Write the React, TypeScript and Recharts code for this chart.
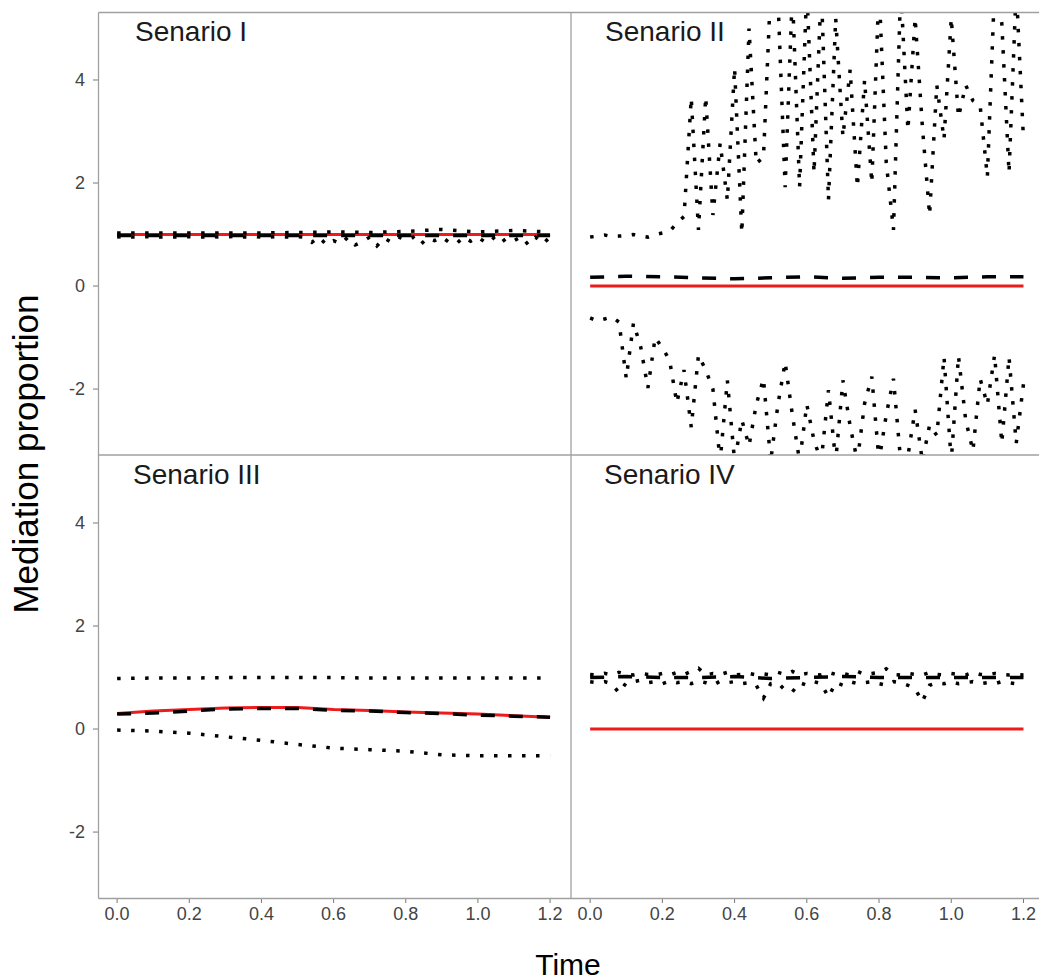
import React from "react";
import { LineChart, Line, XAxis, YAxis } from "recharts";

// time grids
const tFine = [
  0, 0.02, 0.04, 0.06, 0.08, 0.1, 0.12, 0.14, 0.16, 0.18,
  0.2, 0.22, 0.24, 0.26, 0.28, 0.3, 0.32, 0.34, 0.36, 0.38,
  0.4, 0.42, 0.44, 0.46, 0.48, 0.5, 0.52, 0.54, 0.56, 0.58,
  0.6, 0.62, 0.64, 0.66, 0.68, 0.7, 0.72, 0.74, 0.76, 0.78,
  0.8, 0.82, 0.84, 0.86, 0.88, 0.9, 0.92, 0.94, 0.96, 0.98,
  1, 1.02, 1.04, 1.06, 1.08, 1.1, 1.12, 1.14, 1.16, 1.18,
  1.2,
];
const tCoarse = [0, 0.1, 0.2, 0.3, 0.4, 0.5, 0.6, 0.7, 0.8, 0.9, 1, 1.1, 1.2];
const tEnds = [0, 1.2];

const xTicks = [0, 0.2, 0.4, 0.6, 0.8, 1, 1.2];
const yTicks = [-2, 0, 2, 4];

// Senario I
const s1Truth = [1, 1];
const s1Mean = [0.98, 0.98, 0.98, 0.98, 0.98, 0.98, 0.98, 0.98, 0.98, 0.98, 0.98, 0.98, 0.98];
const s1Upper = [1.03, 1.03, 1.03, 1.03, 1.03, 1.04, 1.05, 1.04, 1.06, 1.1, 1.05, 1.08, 1.05];
const s1Lower = [
  0.95, 0.96, 0.95, 0.95, 0.96, 0.95, 0.95, 0.96, 0.95, 0.95,
  0.96, 0.95, 0.95, 0.96, 0.95, 0.95, 0.96, 0.95, 0.95, 0.96,
  0.95, 0.95, 0.96, 0.95, 0.95, 0.96, 0.95, 0.85, 0.95, 0.8,
  0.88, 0.82, 0.95, 0.8, 0.86, 0.95, 0.78, 0.93, 0.85, 0.95,
  0.9, 0.95, 0.8, 0.93, 0.88, 0.95, 0.85, 0.82, 0.95, 0.87,
  0.95, 0.85, 0.95, 0.82, 0.93, 0.88, 0.96, 0.8, 0.95, 0.82,
  0.95,
];

// Senario II
const s2Truth = [0, 0];
const s2Mean = [0.17, 0.19, 0.18, 0.16, 0.14, 0.16, 0.18, 0.15, 0.17, 0.17, 0.16, 0.18, 0.18];
const s2Upper = [
  0.95, 0.97, 0.99, 0.96, 0.97, 0.98, 1.0, 0.97, 0.95, 1.0,
  1.03, 1.06, 1.22, 1.35, 3.65, 1.09, 3.67, 1.38, 2.77, 1.67,
  4.23, 1.03, 5.0, 2.38, 2.5, 5.8, 5.6, 1.92, 5.7, 1.92,
  5.8, 2.2, 5.8, 1.67, 5.2, 2.9, 4.2, 1.92, 4.0, 2.0,
  5.8, 2.4, 1.09, 5.8, 3.03, 5.2, 3.1, 1.38, 3.9, 2.85,
  5.2, 3.28, 3.9, 3.6, 3.5, 2.12, 5.8, 5.1, 2.2, 5.8,
  2.85,
];
const s2Lower = [
  -0.62, -0.68, -0.64, -0.6, -0.7, -1.79, -0.72, -1.18, -1.98, -1.0,
  -1.2, -1.44, -2.27, -1.63, -2.74, -1.34, -1.63, -2.0, -3.4, -1.83,
  -3.4, -2.6, -3.1, -2.3, -1.8, -3.4, -2.3, -1.48, -2.5, -3.4,
  -2.3, -3.0, -3.4, -2.02, -3.4, -1.83, -2.72, -3.4, -2.28, -1.76,
  -3.4, -2.5, -1.8, -3.4, -3.3, -2.4, -3.4, -2.7, -2.9, -1.38,
  -3.4, -1.36, -2.6, -3.2, -1.8, -2.3, -1.34, -3.05, -1.38, -3.05,
  -1.9,
];

// Senario III
const s3Truth = [0.3, 0.35, 0.38, 0.41, 0.42, 0.42, 0.38, 0.36, 0.33, 0.31, 0.29, 0.26, 0.23];
const s3Mean = [0.29, 0.31, 0.35, 0.39, 0.4, 0.4, 0.36, 0.35, 0.32, 0.3, 0.27, 0.25, 0.23];
const s3Upper = [0.98, 0.99, 0.99, 1.0, 1.0, 1.0, 1.0, 0.99, 0.99, 0.99, 0.99, 0.99, 0.99];
const s3Lower = [-0.02, -0.04, -0.08, -0.15, -0.22, -0.3, -0.37, -0.4, -0.43, -0.5, -0.52, -0.52, -0.52];

// Senario IV
const s4Truth = [0, 0];
const s4Mean = [1.0, 1.02, 1.0, 1.0, 1.02, 0.98, 1.0, 1.02, 1.0, 1.0, 1.0, 1.0, 1.0];
const s4Upper = [
  1.06, 1.05, 1.08, 1.05, 1.1, 1.06, 1.05, 1.08, 1.06, 1.05,
  1.08, 1.05, 1.1, 1.06, 1.12, 1.18, 1.05, 1.08, 1.06, 1.1,
  1.05, 1.06, 1.08, 1.05, 1.07, 1.05, 1.1, 1.06, 1.12, 1.05,
  1.08, 1.06, 1.05, 1.1, 1.06, 1.08, 1.05, 1.12, 1.06, 1.08,
  1.1, 1.17, 1.06, 1.05, 1.08, 1.06, 1.05, 1.1, 1.06, 1.05,
  1.08, 1.06, 1.05, 1.1, 1.06, 1.05, 1.08, 1.06, 1.05, 1.06,
  1.05,
];
const s4Lower = [
  0.92, 0.9, 0.92, 0.88, 0.7, 0.9, 0.92, 0.95, 0.9, 0.92,
  0.88, 0.93, 0.9, 0.92, 0.88, 0.93, 0.9, 0.85, 0.93, 0.9,
  0.92, 0.88, 0.9, 0.85, 0.6, 0.88, 0.9, 0.75, 0.72, 0.9,
  0.85, 0.92, 0.88, 0.62, 0.9, 0.85, 0.92, 0.88, 0.9, 0.92,
  0.88, 0.85, 0.92, 0.9, 0.85, 0.78, 0.53, 0.85, 0.9, 0.88,
  0.92, 0.88, 0.9, 0.92, 0.88, 0.9, 0.88, 0.92, 0.9, 0.88,
  0.9,
];

const FONT = "'Liberation Sans', Arial, Helvetica, sans-serif";
const RED = "#ec1c1c";

type Kind = "truth" | "mean" | "ci";
type Series = { t: number[]; v: number[]; kind: Kind };

const lineStyle: Record<Kind, any> = {
  truth: { stroke: RED, strokeWidth: 3 },
  mean: { stroke: "#000", strokeWidth: 3.5, strokeDasharray: "14 14" },
  ci: { stroke: "#000", strokeWidth: 3.5, strokeDasharray: "3.5 10.5" },
};

const zip = (t: number[], v: number[]) => t.map((x, i) => ({ t: x, v: v[i] }));

function Panel({ x, y, w, h, withY, withX, xMax, series }: {
  x: number; y: number; w: number; h: number;
  withY: boolean; withX: boolean; xMax: number; series: Series[];
}) {
  const axisW = withY ? 98 : 0;
  const axisH = withX ? 50 : 0;
  const tickStyle = { fill: "#444", fontSize: 18, fontFamily: FONT };
  return (
    <div style={{ position: "absolute", left: x - axisW, top: y }}>
      <LineChart width={w + axisW} height={h + axisH} margin={{ top: 0, right: 0, bottom: 0, left: 0 }}>
        <XAxis
          type="number"
          dataKey="t"
          domain={[-0.053, xMax]}
          allowDataOverflow
          ticks={xTicks}
          tickFormatter={(v: number) => v.toFixed(1)}
          hide={!withX}
          height={axisH}
          axisLine={false}
          tickLine={{ stroke: "#777" }}
          tickSize={5}
          tickMargin={4}
          tick={tickStyle}
          interval={0}
        />
        <YAxis
          type="number"
          domain={[-3.28, 5.32]}
          allowDataOverflow
          ticks={yTicks}
          hide={!withY}
          width={axisW}
          axisLine={false}
          tickLine={{ stroke: "#777" }}
          tickSize={5}
          tickMargin={8}
          tick={tickStyle}
          interval={0}
        />
        {series.map((s, i) => (
          <Line
            key={i}
            data={zip(s.t, s.v)}
            dataKey="v"
            type="linear"
            dot={false}
            activeDot={false}
            isAnimationActive={false}
            {...lineStyle[s.kind]}
          />
        ))}
      </LineChart>
    </div>
  );
}

const panels = [
  {
    title: "Senario I", x: 98, y: 12, withY: true, withX: false, xMax: 1.258,
    series: [
      { t: tEnds, v: s1Truth, kind: "truth" },
      { t: tCoarse, v: s1Mean, kind: "mean" },
      { t: tCoarse, v: s1Upper, kind: "ci" },
      { t: tFine, v: s1Lower, kind: "ci" },
    ] as Series[],
  },
  {
    title: "Senario II", x: 571, y: 12, withY: false, withX: false, xMax: 1.243,
    series: [
      { t: tEnds, v: s2Truth, kind: "truth" },
      { t: tCoarse, v: s2Mean, kind: "mean" },
      { t: tFine, v: s2Upper, kind: "ci" },
      { t: tFine, v: s2Lower, kind: "ci" },
    ] as Series[],
  },
  {
    title: "Senario III", x: 98, y: 455, withY: true, withX: true, xMax: 1.258,
    series: [
      { t: tCoarse, v: s3Truth, kind: "truth" },
      { t: tCoarse, v: s3Mean, kind: "mean" },
      { t: tCoarse, v: s3Upper, kind: "ci" },
      { t: tCoarse, v: s3Lower, kind: "ci" },
    ] as Series[],
  },
  {
    title: "Senario IV", x: 571, y: 455, withY: false, withX: true, xMax: 1.243,
    series: [
      { t: tEnds, v: s4Truth, kind: "truth" },
      { t: tCoarse, v: s4Mean, kind: "mean" },
      { t: tFine, v: s4Upper, kind: "ci" },
      { t: tFine, v: s4Lower, kind: "ci" },
    ] as Series[],
  },
];

export default function App() {
  return (
    <div style={{ position: "absolute", left: 0, top: 0, width: 1039, height: 980, background: "#fff", overflow: "hidden" }}>
      {panels.map((p) => (
        <Panel
          key={p.title}
          x={p.x}
          y={p.y}
          w={p.x === 98 ? 473 : 468}
          h={443}
          withY={p.withY}
          withX={p.withX}
          xMax={p.xMax}
          series={p.series}
        />
      ))}
      <svg width={1039} height={980} style={{ position: "absolute", left: 0, top: 0, pointerEvents: "none" }}>
        <g stroke="#a0a0a0" strokeWidth={1.3} fill="none">
          <line x1={98.5} y1={12.5} x2={1039} y2={12.5} />
          <line x1={98.5} y1={455} x2={1039} y2={455} />
          <line x1={98.5} y1={898.5} x2={1039} y2={898.5} />
          <line x1={98.5} y1={12.5} x2={98.5} y2={898.5} />
          <line x1={571} y1={12.5} x2={571} y2={898.5} />
        </g>
        <g fontFamily={FONT} fontSize={28} fill="#1a1a1a">
          <text x={135} y={41}>Senario I</text>
          <text x={605} y={41}>Senario II</text>
          <text x={133} y={484}>Senario III</text>
          <text x={604} y={484}>Senario IV</text>
        </g>
        <text x={568} y={975} textAnchor="middle" fontFamily={FONT} fontSize={30} fill="#000">Time</text>
        <text
          x={0}
          y={0}
          transform="translate(38,454) rotate(-90)"
          textAnchor="middle"
          fontFamily={FONT}
          fontSize={35}
          fill="#000"
        >
          Mediation proportion
        </text>
      </svg>
    </div>
  );
}
